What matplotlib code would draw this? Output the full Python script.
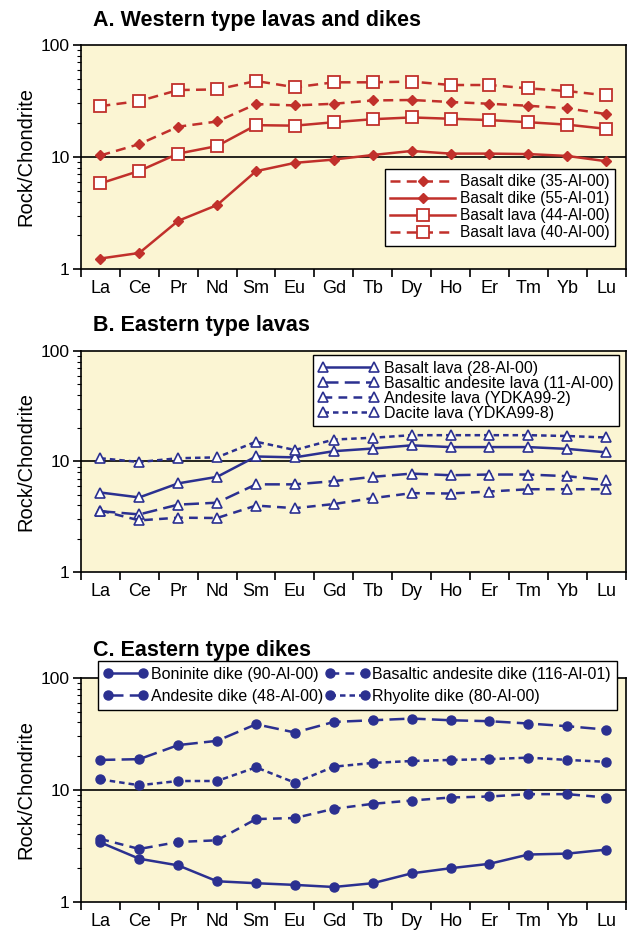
import numpy as np
import matplotlib
matplotlib.use("Agg")
import matplotlib.pyplot as plt
from matplotlib.ticker import FixedLocator, LogLocator, NullFormatter

plt.rcParams['font.family'] = ['Liberation Sans', 'DejaVu Sans']

ree = ['La', 'Ce', 'Pr', 'Nd', 'Sm', 'Eu', 'Gd', 'Tb', 'Dy', 'Ho', 'Er', 'Tm', 'Yb', 'Lu']

# A. Western type lavas and dikes
dike_35 = [10.3, 13.0, 18.6, 20.7, 29.6, 28.8, 29.8, 31.9, 32.2, 30.9, 29.8, 28.6, 27.1, 24.1]
dike_55 = [1.24, 1.39, 2.69, 3.72, 7.46, 8.85, 9.47, 10.4, 11.3, 10.7, 10.7, 10.6, 10.2, 9.15]
lava_44 = [5.8, 7.5, 10.7, 12.5, 19.2, 19.0, 20.4, 21.7, 22.5, 21.9, 21.3, 20.4, 19.4, 17.8]
lava_40 = [28.4, 31.5, 39.5, 40.0, 47.6, 41.8, 46.3, 46.3, 47.0, 43.8, 43.8, 40.9, 38.7, 35.4]

# B. Eastern type lavas
lava_28 = [5.24, 4.73, 6.34, 7.26, 11.1, 10.9, 12.4, 13.1, 14.0, 13.5, 13.5, 13.5, 13.0, 12.1]
lava_11 = [3.55, 3.32, 4.07, 4.24, 6.21, 6.21, 6.64, 7.26, 7.77, 7.51, 7.62, 7.62, 7.36, 6.78]
ydka_2 = [3.6, 2.93, 3.1, 3.08, 3.99, 3.78, 4.12, 4.66, 5.17, 5.13, 5.35, 5.61, 5.61, 5.61]
ydka_8 = [10.7, 9.9, 10.7, 10.9, 15.1, 12.7, 15.8, 16.4, 17.3, 17.3, 17.3, 17.3, 17.0, 16.5]

# C. Eastern type dikes
bon_90 = [3.4, 2.43, 2.12, 1.53, 1.47, 1.42, 1.36, 1.47, 1.80, 2.0, 2.19, 2.65, 2.7, 2.93]
and_48 = [18.5, 18.8, 25.1, 27.4, 38.5, 32.5, 40.4, 41.8, 43.3, 41.8, 41.0, 39.1, 37.0, 34.5]
ba_116 = [3.65, 2.97, 3.43, 3.55, 5.49, 5.61, 6.78, 7.51, 8.04, 8.55, 8.73, 9.16, 9.16, 8.55]
rhy_80 = [12.4, 11.0, 12.0, 12.0, 15.9, 11.6, 16.1, 17.4, 18.1, 18.5, 18.8, 19.4, 18.5, 17.8]

red = '#C1302B'
blue = '#2B3090'
bg = '#FBF5D3'

x = np.arange(len(ree)) + 0.5

fig = plt.figure(figsize=(6.32, 9.34), dpi=100)


def setup(ax):
    ax.set_facecolor(bg)
    ax.set_yscale('log')
    ax.set_ylim(1, 100)
    ax.set_xlim(0, len(ree))
    ax.axhline(10, color='black', lw=1.2, zorder=1)
    ax.xaxis.set_major_locator(FixedLocator(np.arange(len(ree) + 1)))
    ax.xaxis.set_minor_locator(FixedLocator(x))
    ax.set_xticklabels([''] * (len(ree) + 1))
    ax.set_xticklabels(ree, minor=True)
    ax.tick_params(axis='x', which='major', length=6, width=1.2, direction='out')
    ax.tick_params(axis='x', which='minor', length=0, labelsize=13, pad=8)
    ax.yaxis.set_major_locator(FixedLocator([1, 10, 100]))
    ax.set_yticklabels(['1', '10', '100'])
    ax.yaxis.set_minor_locator(LogLocator(base=10, subs=np.arange(2, 10)))
    ax.yaxis.set_minor_formatter(NullFormatter())
    ax.tick_params(axis='y', which='major', length=6, width=1.2, labelsize=12.5, pad=2)
    ax.tick_params(axis='y', which='minor', length=3, width=0.8)
    ax.set_ylabel('Rock/Chondrite', fontsize=14.5, labelpad=4)
    for s in ax.spines.values():
        s.set_linewidth(1.2)


leg_kw = dict(frameon=True, fancybox=False, edgecolor='black', framealpha=1,
              borderpad=0.35)

axA = fig.add_axes([0.128, 0.712, 0.862, 0.240])
setup(axA)
axA.plot(x, dike_35, color=red, lw=1.8, ls=(0, (4, 2.5)), marker='D', ms=5.5,
         mfc=red, mec=red, label='Basalt dike (35-Al-00)')
axA.plot(x, dike_55, color=red, lw=1.8, ls='-', marker='D', ms=5.5,
         mfc=red, mec=red, label='Basalt dike (55-Al-01)')
axA.plot(x, lava_44, color=red, lw=1.8, ls='-', marker='s', ms=8,
         mfc='white', mec=red, mew=1.3, label='Basalt lava (44-Al-00)')
axA.plot(x, lava_40, color=red, lw=1.8, ls=(0, (4, 2.5)), marker='s', ms=8,
         mfc='white', mec=red, mew=1.3, label='Basalt lava (40-Al-00)')
legA = axA.legend(loc='lower right', bbox_to_anchor=(0.995, 0.07), numpoints=1,
                  fontsize=11.2, handlelength=4.2, handletextpad=0.3,
                  labelspacing=0.12, **leg_kw)
legA.get_frame().set_linewidth(1.0)

axB = fig.add_axes([0.128, 0.3876, 0.862, 0.2366])
setup(axB)
axB.plot(x, lava_28, color=blue, lw=1.8, ls='-', marker='^', ms=7,
         mfc='white', mec=blue, mew=1.2, label='Basalt lava (28-Al-00)')
axB.plot(x, lava_11, color=blue, lw=1.8, ls=(0, (6, 2.5)), marker='^', ms=7,
         mfc='white', mec=blue, mew=1.2, label='Basaltic andesite lava (11-Al-00)')
axB.plot(x, ydka_2, color=blue, lw=1.8, ls=(0, (3.5, 2.5)), marker='^', ms=7,
         mfc='white', mec=blue, mew=1.2, label='Andesite lava (YDKA99-2)')
axB.plot(x, ydka_8, color=blue, lw=1.8, ls=(0, (2.2, 1.6)), marker='^', ms=7,
         mfc='white', mec=blue, mew=1.2, label='Dacite lava (YDKA99-8)')
legB = axB.legend(loc='upper right', bbox_to_anchor=(0.995, 1.0), numpoints=2,
                  fontsize=11.5, handlelength=3.8, handletextpad=0.3,
                  labelspacing=0.0, borderaxespad=0.25, **leg_kw)
legB.get_frame().set_linewidth(1.0)

axC = fig.add_axes([0.128, 0.0343, 0.862, 0.240])
setup(axC)
axC.plot(x, bon_90, color=blue, lw=1.8, ls='-', marker='o', ms=6.5,
         mfc=blue, mec=blue, label='Boninite dike (90-Al-00)')
axC.plot(x, and_48, color=blue, lw=1.8, ls=(0, (6, 2.5)), marker='o', ms=6.5,
         mfc=blue, mec=blue, label='Andesite dike (48-Al-00)')
axC.plot(x, ba_116, color=blue, lw=1.8, ls=(0, (3.5, 2.5)), marker='o', ms=6.5,
         mfc=blue, mec=blue, label='Basaltic andesite dike (116-Al-01)')
axC.plot(x, rhy_80, color=blue, lw=1.8, ls=(0, (2.2, 1.6)), marker='o', ms=6.5,
         mfc=blue, mec=blue, label='Rhyolite dike (80-Al-00)')
legC = axC.legend(loc='upper right', bbox_to_anchor=(0.998, 1.11), ncol=2,
                  numpoints=2, fontsize=11.5, handlelength=2.8,
                  handletextpad=0.15, columnspacing=0.15, labelspacing=0.45,
                  **leg_kw)
legC.get_frame().set_linewidth(1.0)

title_kw = dict(fontsize=15.5, fontweight='bold', ha='left', va='center')
fig.text(0.147, 0.978, 'A. Western type lavas and dikes', **title_kw)
fig.text(0.147, 0.652, 'B. Eastern type lavas', **title_kw)
fig.text(0.147, 0.304, 'C. Eastern type dikes', **title_kw)

fig.savefig('out.png', dpi=100)
